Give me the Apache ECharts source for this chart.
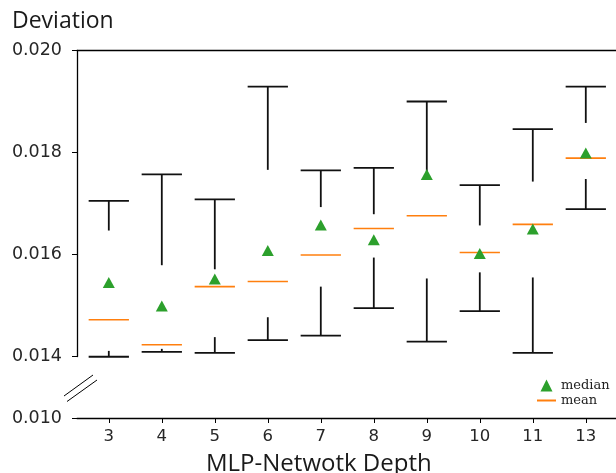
<!DOCTYPE html>
<html>
<head>
<meta charset="utf-8">
<script src="https://cdn.jsdelivr.net/npm/echarts@6/dist/echarts.min.js"></script>
<style>html,body{margin:0;padding:0;background:#fff}#c{width:616px;height:473px}</style>
</head>
<body>
<div id="c"></div>
<script>
var categories = ['3','4','5','6','7','8','9','10','11','13'];
var whiskerHigh = [0.01704,0.01756,0.01707,0.01928,0.01764,0.01769,0.01899,0.01735,0.01845,0.01928];
var upperQ      = [0.01646,0.01578,0.01570,0.01765,0.01692,0.01678,0.01750,0.01656,0.01742,0.01857];
var lowerQ      = [0.01410,0.01414,0.01437,0.01476,0.01536,0.01593,0.01552,0.01564,0.01554,0.01747];
var whiskerLow  = [0.01395,0.01408,0.01406,0.01431,0.01440,0.01494,0.01428,0.01488,0.01406,0.01688];
var medians     = [0.01544,0.01498,0.01551,0.01607,0.01657,0.01628,0.01756,0.01601,0.01649,0.01798];
var means       = [0.01471,0.01422,0.01536,0.01546,0.01598,0.01650,0.01675,0.01603,0.01658,0.01788];
var yTicks = [0.010, 0.014, 0.016, 0.018, 0.020];

var idx = categories.map(function(_, i){ return i; });
var whiskerData = idx.map(function(i){ return [i, whiskerLow[i], lowerQ[i], upperQ[i], whiskerHigh[i]]; });
var meanData = idx.map(function(i){ return [i, means[i]]; });
var medianData = idx.map(function(i){ return [i, medians[i]]; });
var HALF = 0.38;

var chart = echarts.init(document.getElementById('c'), null, {renderer:'canvas'});
var lineStyleBlack = {stroke:'#111', lineWidth:1.8};
chart.setOption({
  animation:false,
  grid:{left:77, top:50, width:539, height:368, containLabel:false},
  xAxis:[{
    type:'value', min:-0.6, max:9.57,
    axisLine:{show:true, onZero:false, lineStyle:{color:'#000', width:1.3}},
    axisTick:{show:true, customValues:idx, length:5, lineStyle:{color:'#000', width:1}},
    axisLabel:{customValues:idx, margin:10, fontFamily:'DejaVu Sans', fontSize:16.5, color:'#262626',
      formatter:function(v){ return categories[Math.round(v)]; }},
    splitLine:{show:false}
  },{
    type:'value', position:'top', min:-0.6, max:9.57,
    axisLine:{show:true, onZero:false, lineStyle:{color:'#000', width:1.3}},
    axisTick:{show:false}, axisLabel:{show:false}, splitLine:{show:false}
  }],
  yAxis:{
    type:'value', min:0.010, max:0.020, interval:0.002,
    breaks:[{start:0.010, end:0.014, gap:'16.85%'}],
    breakArea:{show:false},
    axisLine:{show:true, onZero:false, lineStyle:{color:'#000', width:1.3}},
    axisTick:{show:true, length:5, lineStyle:{color:'#000', width:1}},
    axisLabel:{margin:15, fontFamily:'DejaVu Sans', fontSize:17.5, color:'#262626',
      formatter:function(v){ return v.toFixed(3); }},
    splitLine:{show:false}
  },
  legend:{
    orient:'vertical', left:537, top:379, padding:0, itemGap:2,
    itemWidth:19, itemHeight:12,
    textStyle:{fontFamily:'DejaVu Serif', fontSize:13, color:'#222'},
    data:[{name:'median', icon:'path://M5,0L10,10L0,10Z'},
          {name:'mean', icon:'path://M0,0H19V2H0Z'}]
  },
  series:[{
    type:'custom', name:'whiskers', data:whiskerData, z:2,
    encode:{x:0, y:[1,2,3,4]},
    renderItem:function(params, api){
      var x = api.value(0);
      var lo = api.coord([x, api.value(1)]);
      var q1 = api.coord([x, api.value(2)]);
      var q3 = api.coord([x, api.value(3)]);
      var hi = api.coord([x, api.value(4)]);
      var l = api.coord([x-HALF, api.value(4)])[0];
      var r = api.coord([x+HALF, api.value(4)])[0];
      return {type:'group', children:[
        {type:'line', shape:{x1:l, y1:hi[1], x2:r, y2:hi[1]}, style:lineStyleBlack},
        {type:'line', shape:{x1:hi[0], y1:hi[1], x2:q3[0], y2:q3[1]}, style:lineStyleBlack},
        {type:'line', shape:{x1:q1[0], y1:q1[1], x2:lo[0], y2:lo[1]}, style:lineStyleBlack},
        {type:'line', shape:{x1:l, y1:lo[1], x2:r, y2:lo[1]}, style:lineStyleBlack}
      ]};
    }
  },{
    type:'custom', name:'mean', data:meanData, z:3, color:'#ff7f0e',
    encode:{x:0, y:1},
    renderItem:function(params, api){
      var x = api.value(0);
      var a = api.coord([x-HALF, api.value(1)]);
      var b = api.coord([x+HALF, api.value(1)]);
      return {type:'line', shape:{x1:a[0], y1:a[1], x2:b[0], y2:b[1]}, style:{stroke:'#ff7f0e', lineWidth:1.6}};
    }
  },{
    type:'scatter', name:'median', data:medianData, z:4,
    symbol:'triangle', symbolSize:[12,11], itemStyle:{color:'#2ca02c', opacity:1}
  }],
  graphic:[
    {type:'text', left:12, top:10, style:{text:'Deviation', font:'23px "Open Sans"', fill:'#1a1a1a'}},
    {type:'text', left:206, top:452, style:{text:'MLP-Netwotk Depth', font:'24px "Open Sans"', fill:'#1a1a1a'}},
    {type:'line', shape:{x1:64, y1:396, x2:93, y2:375}, style:{stroke:'#000', lineWidth:1}},
    {type:'line', shape:{x1:67, y1:401.5, x2:97, y2:380}, style:{stroke:'#000', lineWidth:1}}
  ]
});
</script>
</body>
</html>
